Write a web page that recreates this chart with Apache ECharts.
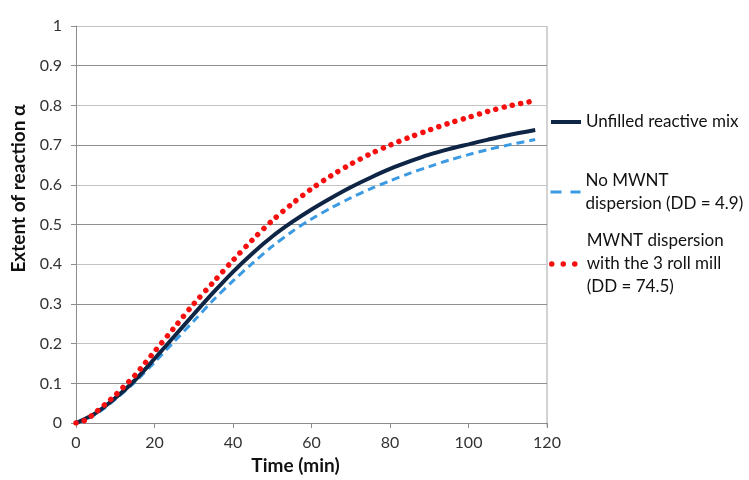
<!DOCTYPE html>
<html>
<head>
<meta charset="utf-8">
<script src="https://cdn.jsdelivr.net/npm/echarts@6/dist/echarts.min.js"></script>
<style>
  html, body { margin: 0; padding: 0; background: #fff; }
  #chart { width: 749px; height: 480px; }
</style>
</head>
<body>
<div id="chart"></div>
<script>
// time (min) and extent of reaction
const timeUnfilled = [0, 5, 10, 15, 20, 25, 30, 35, 40, 45, 50, 55, 60, 65, 70, 75, 80, 85, 90, 95, 100, 105, 110, 117];
const alphaUnfilled = [0, 0.025, 0.063, 0.108, 0.162, 0.218, 0.274, 0.329, 0.381, 0.428, 0.47, 0.506, 0.538, 0.567, 0.594, 0.618, 0.64, 0.659, 0.676, 0.69, 0.702, 0.714, 0.725, 0.738];

const timeNoDisp = [0, 5, 10, 15, 20, 25, 30, 35, 40, 45, 50, 55, 60, 65, 70, 75, 80, 85, 90, 95, 100, 105, 110, 117];
const alphaNoDisp = [0, 0.022, 0.06, 0.103, 0.153, 0.205, 0.257, 0.31, 0.358, 0.403, 0.445, 0.482, 0.514, 0.542, 0.567, 0.59, 0.61, 0.629, 0.646, 0.662, 0.676, 0.689, 0.70, 0.714];

const timeRollMill = [0, 2.5, 5, 7.5, 10, 12.5, 15, 17.5, 20, 25, 30, 35, 40, 45, 50, 55, 60, 65, 70, 75, 80, 85, 90, 95, 100, 105, 110, 117];
const alphaRollMill = [0, 0.008, 0.027, 0.048, 0.07, 0.095, 0.12, 0.15, 0.18, 0.24, 0.30, 0.355, 0.41, 0.462, 0.51, 0.552, 0.59, 0.623, 0.652, 0.678, 0.70, 0.72, 0.738, 0.755, 0.77, 0.785, 0.798, 0.812];

const xTicks = [0, 20, 40, 60, 80, 100, 120];
const yTicks = [0, 0.1, 0.2, 0.3, 0.4, 0.5, 0.6, 0.7, 0.8, 0.9, 1];

const seriesNames = [
  'Unfilled reactive mix',
  'No MWNT dispersion (DD = 4.9)',
  'MWNT dispersion with the 3 roll mill (DD = 74.5)'
];
const legendLabels = {
  'Unfilled reactive mix': 'Unfilled reactive mix',
  'No MWNT dispersion (DD = 4.9)': 'No MWNT\ndispersion (DD = 4.9)',
  'MWNT dispersion with the 3 roll mill (DD = 74.5)': 'MWNT dispersion\nwith the 3 roll mill\n(DD = 74.5)'
};

const zip = (xs, ys) => xs.map((x, i) => [x, ys[i]]);

const FONT = 'Lato';
const LH = 23;

const chart = echarts.init(document.getElementById('chart'), null, { renderer: 'canvas' });

// one legend per entry so the icon sits on the first text line
const makeLegend = (name, top, lines, lineStyle) => ({
  orient: 'vertical',
  left: 549,
  top: top,
  padding: 0,
  itemWidth: 30,
  itemHeight: 14,
  itemGap: 0,
  data: [name],
  formatter: (n) => legendLabels[n],
  itemStyle: { opacity: 0 },
  lineStyle: lineStyle,
  textStyle: {
    fontFamily: FONT,
    fontSize: 17,
    color: '#111',
    lineHeight: LH,
    padding: [(lines - 1) * LH, 0, 0, 0]
  }
});

const option = {
  animation: false,
  backgroundColor: '#fff',
  grid: { left: 76, right: 202, top: 26, bottom: 53 },
  legend: [
    makeLegend(seriesNames[0], 110.5, 1, { width: 4 }),
    makeLegend(seriesNames[1], 157.5, 2, { width: 3, type: [11, 9] }),
    makeLegend(seriesNames[2], 206.5, 3, { width: 5.5, type: [0.01, 11.5], cap: 'round' })
  ],
  xAxis: {
    type: 'value',
    min: 0,
    max: 120,
    interval: 20,
    name: 'Time (min)',
    nameLocation: 'middle',
    nameGap: 27,
    nameTextStyle: {
      fontFamily: FONT, fontSize: 19, fontWeight: 'bold', color: '#111',
      padding: [0, 32, 0, 0]
    },
    axisLine: { lineStyle: { color: '#8c8c8c', width: 1 } },
    axisTick: { show: true, length: 5, lineStyle: { color: '#8c8c8c' } },
    axisLabel: {
      fontFamily: FONT, fontSize: 16, color: '#333', margin: 12,
      formatter: (v) => xTicks.includes(v) ? String(v) : ''
    },
    splitLine: { show: false }
  },
  yAxis: {
    type: 'value',
    min: 0,
    max: 1,
    interval: 0.1,
    name: 'Extent of reaction α',
    nameLocation: 'middle',
    nameGap: 38,
    nameRotate: 90,
    nameTextStyle: {
      fontFamily: FONT, fontSize: 19, fontWeight: 'bold', color: '#111',
      padding: [0, 0, 0, 72]
    },
    axisLine: { show: true, lineStyle: { color: '#8c8c8c', width: 1 } },
    axisTick: { show: true, length: 5, lineStyle: { color: '#8c8c8c' } },
    axisLabel: {
      fontFamily: FONT, fontSize: 16, color: '#333', margin: 14,
      formatter: (v) => {
        const t = yTicks.find(k => Math.abs(k - v) < 1e-6);
        return t === undefined ? '' : String(t);
      }
    },
    splitLine: { show: true, lineStyle: { color: ['#c4c4c4', '#8f8f8f'], width: 1.2 } }
  },
  graphic: [{
    // right edge of the plot area
    type: 'line',
    shape: { x1: 547, y1: 26, x2: 547, y2: 427 },
    style: { stroke: '#a6a6a6', lineWidth: 1 },
    silent: true
  }],
  series: [
    {
      name: seriesNames[0],
      type: 'line',
      data: zip(timeUnfilled, alphaUnfilled),
      smooth: 0.3,
      symbol: 'none',
      z: 3,
      itemStyle: { color: '#0e2545' },
      lineStyle: { color: '#0e2545', width: 4 }
    },
    {
      name: seriesNames[1],
      type: 'line',
      data: zip(timeNoDisp, alphaNoDisp),
      smooth: 0.3,
      symbol: 'none',
      z: 2,
      itemStyle: { color: '#3b9ae1' },
      lineStyle: { color: '#3b9ae1', width: 3, type: [8, 5] }
    },
    {
      name: seriesNames[2],
      type: 'line',
      data: zip(timeRollMill, alphaRollMill),
      smooth: 0.3,
      symbol: 'none',
      z: 4,
      itemStyle: { color: '#f50f0f' },
      lineStyle: { color: '#f50f0f', width: 5.5, type: [0.01, 8.5], cap: 'round' }
    }
  ]
};

chart.setOption(option);
</script>
</body>
</html>
